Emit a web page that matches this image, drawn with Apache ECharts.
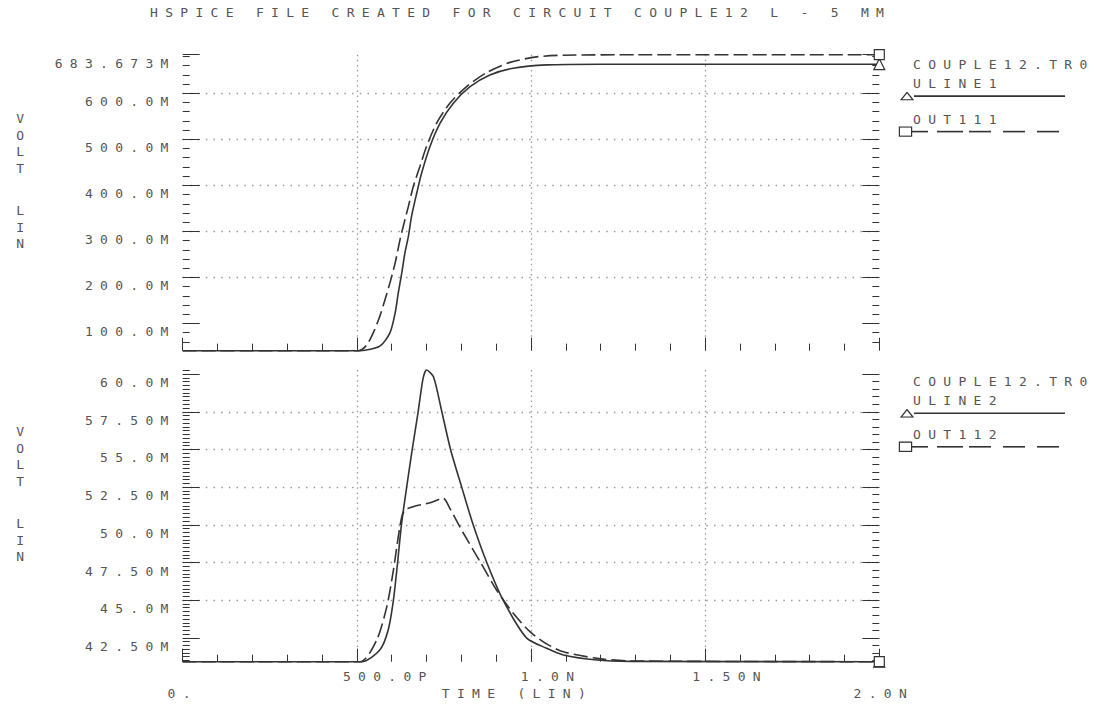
<!DOCTYPE html>
<html>
<head>
<meta charset="utf-8">
<title>HSPICE COUPLE12</title>
<script src="https://cdn.jsdelivr.net/npm/echarts@6.0.0/dist/echarts.min.js"></script>
<style>
html, body { margin: 0; padding: 0; background: #fff; }
#chart { width: 1096px; height: 705px; }
/* plotter style wide lettering */
#chart text { letter-spacing: 7.3px; }
</style>
</head>
<body>
<div id="chart"></div>
<script>
// time in ns, voltage in mV (HSPICE "M" = milli)
var uline1Time = [0, 0.51, 0.566, 0.595, 0.610, 0.619, 0.629, 0.638, 0.648, 0.657, 0.672, 0.686, 0.710, 0.739, 0.777, 0.825, 0.882, 0.949, 1.045, 1.2, 2.0];
var uline1Volt = [40.92, 40.92, 50.8, 79.8, 123.2, 166.5, 209.9, 253.3, 289.3, 332.6, 383.3, 426.7, 484.4, 535.1, 578.4, 614.4, 639.8, 654.3, 661.5, 663, 663];

var out111Time = [0, 0.504, 0.528, 0.547, 0.566, 0.581, 0.595, 0.610, 0.624, 0.638, 0.648, 0.662, 0.681, 0.700, 0.729, 0.767, 0.815, 0.873, 0.940, 1.016, 1.093, 1.3, 2.0];
var out111Volt = [40.92, 40.92, 52.9, 79.8, 115.9, 152, 188.2, 231.5, 282.1, 325.4, 354.3, 397.6, 441, 484.4, 535.1, 578.4, 614.4, 645, 667, 679, 682.5, 683.5, 683.673];

var uline2Time = [0, 0.514, 0.566, 0.590, 0.605, 0.617, 0.628, 0.643, 0.659, 0.676, 0.690, 0.700, 0.720, 0.744, 0.769, 0.801, 0.834, 0.873, 0.920, 0.987, 1.045, 1.093, 1.189, 1.284, 2.0];
var uline2Volt = [40.92, 40.92, 41.7, 43.02, 45.0, 47.5, 50.0, 52.5, 55.0, 57.5, 59.7, 60.27, 59.82, 57.5, 55.0, 52.5, 50.0, 47.5, 45.0, 42.5, 41.81, 41.37, 41.03, 40.94, 40.92];

var out112Time = [0, 0.509, 0.557, 0.586, 0.605, 0.619, 0.629, 0.638, 0.662, 0.710, 0.748, 0.767, 0.806, 0.854, 0.901, 0.949, 0.997, 1.045, 1.093, 1.189, 1.284, 2.0];
var out112Volt = [40.92, 40.92, 42.36, 44.57, 47.0, 49.21, 50.54, 50.98, 51.2, 51.47, 51.76, 51.09, 49.44, 47.55, 45.68, 44.13, 42.91, 42.1, 41.58, 41.14, 40.97, 40.92];

// axis ticks and their HSPICE labels
var topTicks = [100, 200, 300, 400, 500, 600, 683.673];
var topTickLabels = ['100.0M', '200.0M', '300.0M', '400.0M', '500.0M', '600.0M', '683.673M'];
var bottomTicks = [42.5, 45, 47.5, 50, 52.5, 55, 57.5, 60];
var bottomTickLabels = ['42.50M', '45.0M', '47.50M', '50.0M', '52.50M', '55.0M', '57.50M', '60.0M'];
var timeTicks = [0, 0.5, 1, 1.5, 2];
var timeTickLabels = ['0.', '500.0P', '1.0N', '1.50N', '2.0N'];

var titleText = 'HSPICE FILE CREATED FOR CIRCUIT COUPLE12 L - 5 MM';
var fileName = 'COUPLE12.TR0';

var topMin = 40.92, topMax = 683.673;
var botMin = 40.92, botMax = 60.27;

var FONT = 'DejaVu Sans Mono';
var INK = '#555';
var LINE = '#333';

function labelFor(ticks, labels) {
    return function (v) {
        for (var i = 0; i < ticks.length; i++) {
            if (Math.abs(ticks[i] - v) < 1e-6) return labels[i];
        }
        return '';
    };
}

function steps(from, to, step) {
    var out = [];
    for (var i = 0; from + i * step <= to + 1e-9; i++) out.push(+(from + i * step).toFixed(4));
    return out;
}

function pairs(ts, vs, marker) {
    return ts.map(function (t, i) {
        if (i === ts.length - 1) {
            return { value: [t, vs[i]], symbol: marker, symbolSize: marker === 'rect' ? 10 : 11 };
        }
        return [t, vs[i]];
    });
}

var dotH = { color: '#9a9a9a', width: 1.4, type: [1.5, 6.2] };
var dotV = { color: '#9a9a9a', width: 1.3, type: [1.5, 3.6] };

function panelYAxes(grid, min, max, ticks, labels, minorL, minorR) {
    var base = { gridIndex: grid, type: 'value', min: min, max: max, axisLine: { show: false } };
    return [
        Object.assign({}, base, {
            position: 'left',
            name: '{a|V}\n{a|O}\n{a|L}\n{a|T}\n{b|}\n{a|L}\n{a|I}\n{a|N}',
            nameLocation: 'middle',
            nameRotate: 0,
            nameGap: 159,
            nameMoveOverlap: false,
            nameTextStyle: {
                fontFamily: FONT, fontSize: 13, color: INK,
                align: 'center', verticalAlign: 'middle',
                padding: [0, 0, 43, 0],
                rich: { a: { lineHeight: 16.5 }, b: { lineHeight: 26 } }
            },
            axisTick: { show: true, inside: true, length: 17, customValues: ticks, lineStyle: { color: LINE, width: 1 } },
            axisLabel: {
                customValues: ticks, formatter: labelFor(ticks, labels),
                margin: 7, verticalAlign: 'top', padding: [2, 0, 0, 0],
                fontFamily: FONT, fontSize: 13, color: INK, hideOverlap: false
            },
            splitLine: { show: true, showMinLine: false, showMaxLine: false, lineStyle: dotH }
        }),
        Object.assign({}, base, {
            position: 'left',
            axisTick: { show: true, inside: true, length: 7, customValues: minorL, lineStyle: { color: LINE, width: 1 } },
            axisLabel: { show: false }, splitLine: { show: false }
        }),
        Object.assign({}, base, {
            position: 'right',
            axisTick: { show: true, inside: true, length: 17, customValues: ticks, lineStyle: { color: LINE, width: 1 } },
            axisLabel: { show: false }, splitLine: { show: false }
        }),
        Object.assign({}, base, {
            position: 'right',
            axisTick: { show: true, inside: true, length: 7, customValues: minorR, lineStyle: { color: LINE, width: 1 } },
            axisLabel: { show: false }, splitLine: { show: false }
        })
    ];
}

// label nudges [left pad, top pad]: HSPICE staggers the time labels
var xLabelPad = [[0, 17], [63, 0], [40, 0], [50, 0], [9, 17]];
var xRich = {};
xLabelPad.forEach(function (p, i) { xRich['x' + i] = { padding: [p[1], 0, 0, p[0]] }; });

function timeAxis(grid, withLabels) {
    return {
        gridIndex: grid, type: 'value', min: 0, max: 2, interval: 0.5,
        axisLine: { show: false },
        axisTick: { show: true, inside: true, length: 13, lineStyle: { color: LINE } },
        minorTick: { show: true, splitNumber: 5, length: 7, lineStyle: { color: LINE } },
        splitLine: { show: true, showMinLine: false, showMaxLine: false, lineStyle: dotV },
        axisLabel: withLabels ? {
            customValues: timeTicks,
            formatter: function (v) {
                var i = timeTicks.indexOf(v);
                return i < 0 ? '' : '{x' + i + '|' + timeTickLabels[i] + '}';
            },
            margin: 8, fontFamily: FONT, fontSize: 13, color: INK, rich: xRich, hideOverlap: false
        } : { show: false },
        name: withLabels ? 'TIME (LIN)' : '',
        nameLocation: 'middle',
        nameGap: 25,
        nameMoveOverlap: false,
        nameTextStyle: { fontFamily: FONT, fontSize: 13, color: INK, padding: [0, 27, 0, 0] }
    };
}

// legend: name above, marker + line sample below
var triMarker = 'data:image/svg+xml;charset=utf-8,' + encodeURIComponent(
    '<svg xmlns="http://www.w3.org/2000/svg" width="14" height="9" viewBox="0 0 14 9">' +
    '<path d="M1 8.3 L7 0.8 L13 8.3 Z" fill="#fff" stroke="#333" stroke-width="1.3"/></svg>');
var dashRuns = [17, 9, 26, 6, 22, 12, 22, 12, 22];
var legendRich = {
    h: { padding: [0, 0, 0, 13], lineHeight: 20 },
    n: { padding: [0, 0, 0, 13], lineHeight: 19 },
    o: { padding: [0, 0, 0, 13], lineHeight: 18 },
    tri: { width: 14, height: 9, lineHeight: 6, backgroundColor: { image: triMarker } },
    sq: { width: 11, height: 8, lineHeight: 6, backgroundColor: '#fff', borderColor: LINE, borderWidth: 1.2 },
    s: { width: 151, height: 1.6, lineHeight: 6, backgroundColor: LINE }
};
dashRuns.forEach(function (w, i) {
    legendRich['r' + i] = { width: w, height: 1.6, lineHeight: 6, backgroundColor: i % 2 ? 'transparent' : LINE };
});

function legendLabel(name) {
    if (name.indexOf('ULINE') === 0) {
        return '{h|' + fileName + '}\n{n|' + name + '}\n{tri|}{s|}';
    }
    var dash = dashRuns.map(function (w, i) { return '{r' + i + '|}'; }).join('');
    return '{o|' + name + '}\n{sq|}' + dash;
}

function legendAt(name, top) {
    return {
        data: [name], left: 895, top: top, orient: 'vertical', padding: 0,
        icon: 'none', itemWidth: 0, itemHeight: 0, selectedMode: false,
        formatter: legendLabel,
        textStyle: { fontFamily: FONT, fontSize: 13, color: INK, rich: legendRich }
    };
}

function lineSeries(name, xi, yi, ts, vs, dashed, marker) {
    return {
        name: name, type: 'line', xAxisIndex: xi, yAxisIndex: yi,
        data: pairs(ts, vs, marker),
        smooth: 0.25, symbol: 'none', clip: false,
        lineStyle: { color: LINE, width: 1.6, type: dashed ? [14, 5] : 'solid' },
        itemStyle: { color: '#fff', borderColor: LINE, borderWidth: 1.2 },
        emphasis: { disabled: true },
        z: 3
    };
}

var chart = echarts.init(document.getElementById('chart'), null, { renderer: 'svg' });

var option = {
    backgroundColor: '#fff',
    animation: false,
    title: {
        text: titleText, left: 150, top: 6, padding: 0,
        textStyle: { fontFamily: FONT, fontSize: 13, fontWeight: 'normal', color: INK }
    },
    legend: [
        legendAt('ULINE1', 57.6),
        legendAt('OUT111', 113.1),
        legendAt('ULINE2', 374.8),
        legendAt('OUT112', 428.3)
    ],
    grid: [
        { left: 182.7, right: 216.7, top: 54.7, height: 296, outerBoundsMode: 'none', containLabel: false },
        { left: 182.7, right: 216.7, top: 370, height: 291.7, outerBoundsMode: 'none', containLabel: false }
    ],
    xAxis: [timeAxis(0, false), timeAxis(1, true)],
    yAxis: panelYAxes(0, topMin, topMax, topTicks, topTickLabels, steps(60, 680, 20), steps(60, 680, 20))
        .concat(panelYAxes(1, botMin, botMax, bottomTicks, bottomTickLabels, steps(41, 60.25, 0.25), steps(41, 60, 0.5))),
    series: [
        lineSeries('ULINE1', 0, 0, uline1Time, uline1Volt, false, 'triangle'),
        lineSeries('OUT111', 0, 0, out111Time, out111Volt, true, 'rect'),
        lineSeries('ULINE2', 1, 4, uline2Time, uline2Volt, false, 'triangle'),
        lineSeries('OUT112', 1, 4, out112Time, out112Volt, true, 'rect')
    ]
};

chart.setOption(option);
</script>
</body>
</html>
